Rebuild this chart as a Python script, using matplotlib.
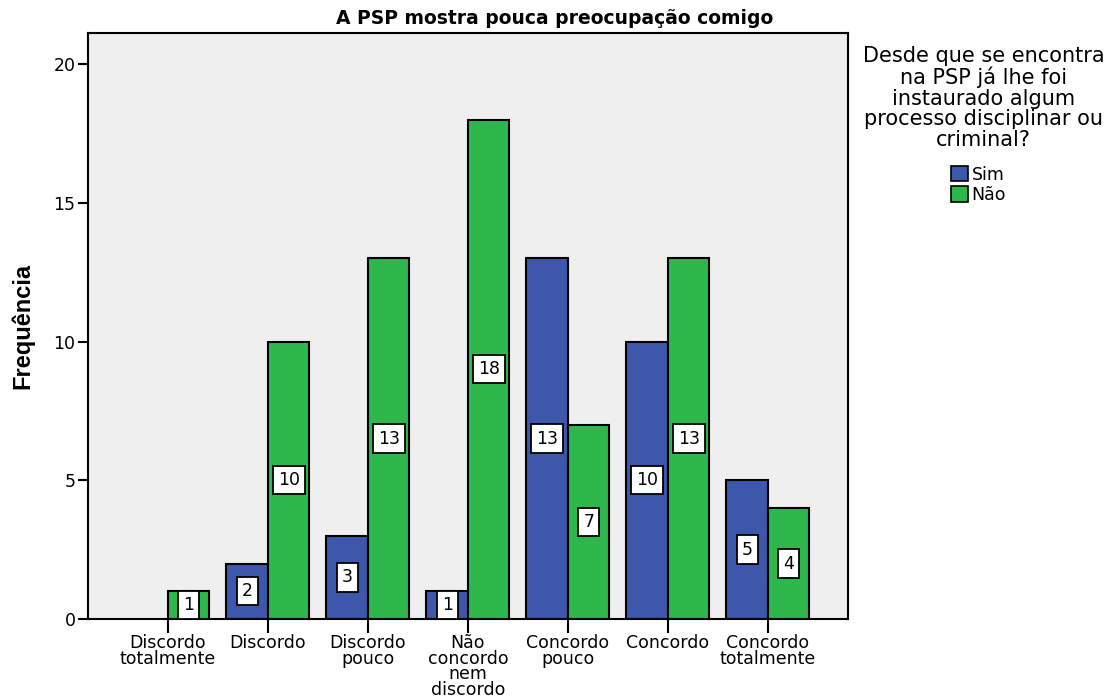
import matplotlib.pyplot as plt
import numpy as np

plt.rcParams['font.family'] = ['DejaVu Sans']

# dados
categorias = ["Discordo\ntotalmente", "Discordo", "Discordo\npouco",
              "Não\nconcordo\nnem\ndiscordo", "Concordo\npouco", "Concordo",
              "Concordo\ntotalmente"]
sim = [0, 2, 3, 1, 13, 10, 5]
nao = [1, 10, 13, 18, 7, 13, 4]
grupos = ["Sim", "Não"]
cores = ["#3d57aa", "#2eb84b"]

fig = plt.figure(figsize=(11.15, 6.97), dpi=100)
ax = fig.add_axes([0.0789, 0.1119, 0.6816, 0.8408])
ax.set_facecolor("#efefef")

x = np.arange(len(categorias))
w = 0.415
caixa = dict(boxstyle="square,pad=0.3", fc="white", ec="black", lw=1.3)

for vals, off, cor in [(sim, -w / 2, cores[0]), (nao, w / 2, cores[1])]:
    for xi, v in zip(x, vals):
        if v == 0:
            continue
        ax.bar(xi + off, v, w, color=cor, edgecolor="black", linewidth=1.5, zorder=2)
        ax.text(xi + off, v / 2, str(v), ha="center", va="center", fontsize=12.5,
                bbox=caixa, zorder=3)

ax.set_xlim(-0.8, 6.8)
ax.set_ylim(0, 21.12)
ax.set_yticks([0, 5, 10, 15, 20])
ax.set_xticks(x)
ax.set_xticklabels(categorias, fontsize=12.5, linespacing=0.82)
ax.tick_params(axis="y", length=7, width=1.5, labelsize=12.5, pad=2)
ax.tick_params(axis="x", length=10, width=1.5, pad=1)
for s in ax.spines.values():
    s.set_linewidth(1.5)

ax.set_ylabel("Frequência", fontsize=17, fontweight="bold", labelpad=14,
              family="Liberation Sans")
fig.text(0.497, 0.974, "A PSP mostra pouca preocupação comigo", ha="center",
         va="center", fontsize=13.5, fontweight="bold")

# legenda
fig.text(0.882, 0.934, "Desde que se encontra\nna PSP já lhe foi\ninstaurado algum\n"
         "processo disciplinar ou\ncriminal?", ha="center", va="top", fontsize=15,
         linespacing=1.04)
handles = [plt.Rectangle((0, 0), 1, 1, fc=c, ec="black", lw=1.2) for c in cores]
fig.legend(handles, grupos, loc="upper left", bbox_to_anchor=(0.845, 0.775),
           frameon=False, fontsize=12.5, handlelength=1.0, handleheight=1.0,
           handletextpad=0.2, labelspacing=0.15, borderpad=0)

fig.savefig("out.png", dpi=100)
